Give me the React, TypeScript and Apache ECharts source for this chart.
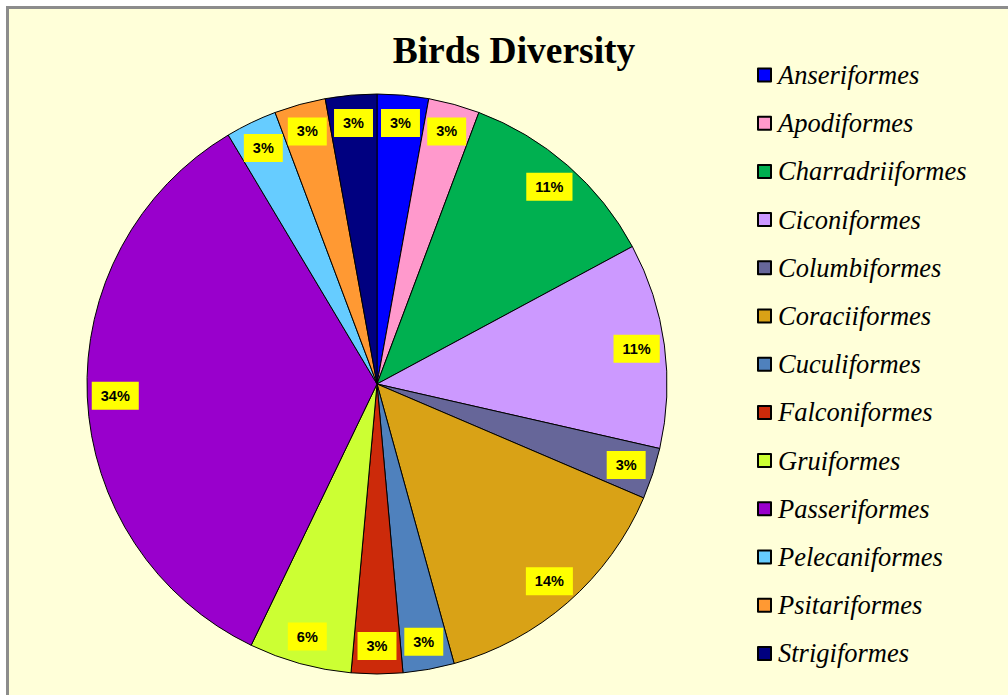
import React, { useEffect, useRef } from "react";
import * as echarts from "echarts";

const categories = [
  "Anseriformes",
  "Apodiformes",
  "Charradriiformes",
  "Ciconiformes",
  "Columbiformes",
  "Coraciiformes",
  "Cuculiformes",
  "Falconiformes",
  "Gruiformes",
  "Passeriformes",
  "Pelecaniformes",
  "Psitariformes",
  "Strigiformes",
];
const counts = [1, 1, 4, 4, 1, 5, 1, 1, 2, 12, 1, 1, 1];
const colors = [
  "#0000FF",
  "#FF99CC",
  "#00B050",
  "#CC99FF",
  "#666699",
  "#D9A216",
  "#4F81BD",
  "#CC2A0A",
  "#CCFF33",
  "#9900CC",
  "#66CCFF",
  "#FF9933",
  "#000080",
];
const titleText = "Birds Diversity";

export default function App() {
  const ref = useRef<HTMLDivElement>(null);
  useEffect(() => {
    document.body.style.margin = "0";
    if (!ref.current) return;
    const chart = echarts.init(ref.current, null, { renderer: "svg" });
    const data = categories.map((name, i) => ({
      name,
      value: counts[i],
      itemStyle: { color: colors[i] },
    }));
    const labelData = categories.map((name, i) => ({
      name: name + " label",
      value: counts[i],
    }));
    chart.setOption({
      animation: false,
      backgroundColor: "#FFFFFF",
      graphic: [
        {
          type: "rect",
          z: -10,
          shape: { x: 7.5, y: 7.5, width: 1010, height: 700 },
          style: { fill: "#FFFFD9", stroke: "#8C8C8C", lineWidth: 3 },
        },
      ],
      title: {
        text: titleText,
        left: 509,
        top: 26,
        textAlign: "center",
        textStyle: {
          fontFamily: "Liberation Serif",
          fontWeight: "bold",
          fontSize: 37.5,
          color: "#000",
        },
      },
      legend: {
        data: categories,
        orient: "vertical",
        left: 752,
        top: 56,
        itemWidth: 13,
        itemHeight: 13,
        itemGap: 20.2,
        icon: "rect",
        textStyle: {
          fontFamily: "Liberation Serif",
          fontStyle: "italic",
          fontSize: 26.5,
          lineHeight: 28,
          color: "#000",
          padding: [0, 0, 0, 2],
        },
      },
      series: [
        {
          type: "pie",
          center: [377, 384],
          radius: [0, 290],
          startAngle: 90,
          clockwise: true,
          avoidLabelOverlap: false,
          label: { show: false },
          labelLine: { show: false },
          emphasis: { disabled: true },
          itemStyle: { borderColor: "#000", borderWidth: 1 },
          data,
        },
        {
          type: "pie",
          center: [377, 384],
          radius: [228, 290],
          startAngle: 90,
          clockwise: true,
          silent: true,
          z: 5,
          avoidLabelOverlap: false,
          itemStyle: { color: "rgba(0,0,0,0)", borderWidth: 0 },
          labelLine: { show: false },
          emphasis: { disabled: true },
          label: {
            show: true,
            position: "inside",
            formatter: (p: any) => Math.round(p.percent) + "%",
            backgroundColor: "#FFFF00",
            padding: [7, 9],
            lineHeight: 14,
            color: "#000",
            fontFamily: "Liberation Sans",
            fontWeight: "bold",
            fontSize: 14.5,
          },
          data: labelData,
        },
      ],
    });
    return () => chart.dispose();
  }, []);
  return (
    <div
      ref={ref}
      style={{ position: "fixed", left: 0, top: 0, width: 1008, height: 695 }}
    />
  );
}
